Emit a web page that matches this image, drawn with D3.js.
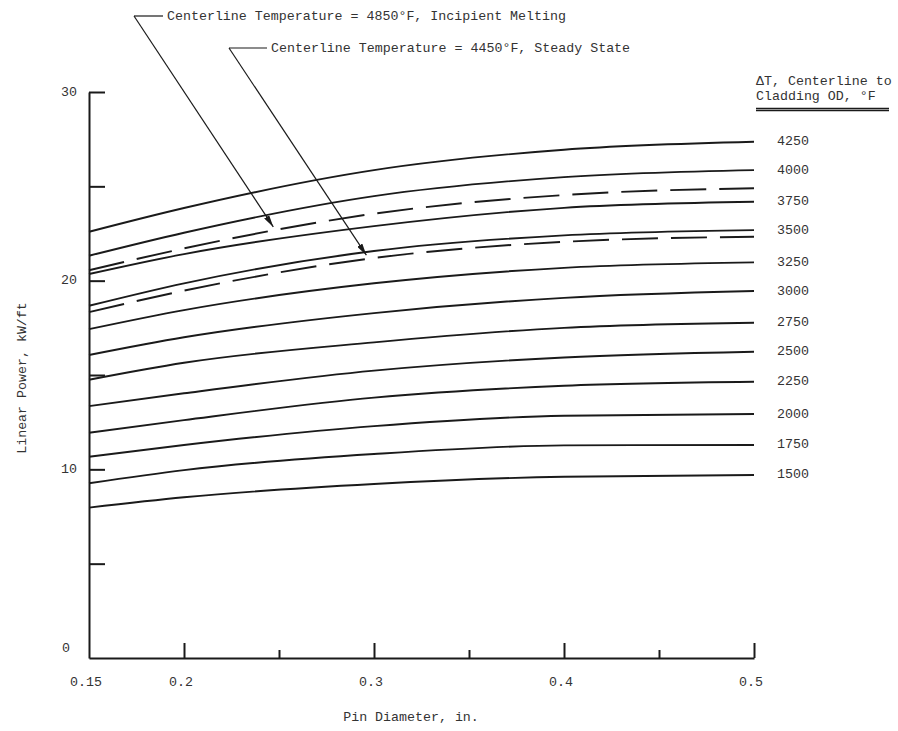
<!DOCTYPE html>
<html><head><meta charset="utf-8">
<script src="https://cdn.jsdelivr.net/npm/d3@7"></script>
<style>
body{margin:0;background:#fff}
svg{display:block}
text{font-family:"Liberation Mono","DejaVu Sans Mono",monospace;fill:#333;font-size:13.3px}
</style>
</head><body>
<svg id="c" width="898" height="731"></svg>
<script>
// ---------- data ----------
const diameters = [0.15, 0.2, 0.3, 0.4, 0.5];          // in.
const deltaTLabels = ["4250","4000","3750","3500","3250","3000","2750","2500","2250","2000","1750","1500"];
const p4250 = [22.59, 23.85, 25.86, 26.94, 27.36];
const p4000 = [21.32, 22.54, 24.48, 25.49, 25.86];
const p3750 = [20.35, 21.41, 22.89, 23.86, 24.18];
const p3500 = [18.67, 19.86, 21.57, 22.40, 22.68];
const p3250 = [17.43, 18.44, 19.86, 20.68, 20.97];
const p3000 = [16.06, 17.00, 18.28, 19.09, 19.45];
const p2750 = [14.75, 15.65, 16.73, 17.50, 17.77];
const p2500 = [13.35, 14.03, 15.23, 15.93, 16.23];
const p2250 = [11.94, 12.61, 13.80, 14.43, 14.64];
const p2000 = [10.67, 11.29, 12.29, 12.84, 12.93];
const p1750 = [9.26, 9.96, 10.81, 11.27, 11.29];
const p1500 = [7.97, 8.52, 9.22, 9.61, 9.70];
const pMelt4850 = [20.55, 21.71, 23.55, 24.54, 24.90];   // dashed, incipient melting
const pSteady4450 = [18.33, 19.47, 21.20, 22.06, 22.33]; // dashed, steady state
const xTickLabels = ["0.15","0.2","0.3","0.4","0.5"];
const yTickLabels = ["0","10","20","30"];
const annot1 = {text:"Centerline Temperature = 4850°F, Incipient Melting", tip:[0.247, 22.85]};
const annot2 = {text:"Centerline Temperature = 4450°F, Steady State", tip:[0.296, 21.35]};

const solidSeries = [p4250,p4000,p3750,p3500,p3250,p3000,p2750,p2500,p2250,p2000,p1750,p1500];
const dashedSeries = [pMelt4850, pSteady4450];

// ---------- layout ----------
const svg = d3.select("#c");
const x = d3.scaleLinear().domain([0.15, 0.5]).range([89, 754]);
const y = d3.scaleLinear().domain([0, 30]).range([658, 92]);
const ink = "#1a1a1a";

const line = d3.line().x((d,i)=>x(diameters[i])).y(d=>y(d)).curve(d3.curveMonotoneX);

// curves
svg.append("g").selectAll("path").data(solidSeries).join("path")
  .attr("d", line).attr("fill","none").attr("stroke",ink).attr("stroke-width",1.9);
svg.append("g").selectAll("path").data(dashedSeries).join("path")
  .attr("d", line).attr("fill","none").attr("stroke",ink).attr("stroke-width",1.9)
  .attr("stroke-dasharray","36,13");

// right labels
svg.append("g").selectAll("text").data(solidSeries).join("text")
  .attr("x", 777).attr("y", d=>y(d[d.length-1])).attr("dominant-baseline","central")
  .text((d,i)=>deltaTLabels[i]);

// x axis (major ticks)
const xMajor = svg.append("g").attr("transform",`translate(0,${y(0)})`)
  .call(d3.axisBottom(x).tickValues([0.2,0.3,0.4,0.5]).tickSizeInner(-15).tickSizeOuter(0).tickFormat(""));
const xMinor = svg.append("g").attr("transform",`translate(0,${y(0)})`)
  .call(d3.axisBottom(x).tickValues([0.25,0.35,0.45]).tickSizeInner(-8).tickSizeOuter(0).tickFormat(""));
xMinor.select(".domain").remove();
// x labels
svg.append("g").selectAll("text").data(xTickLabels).join("text")
  .attr("x", d=>x(+d)-3).attr("y", y(0)+28).attr("text-anchor","middle").text(d=>d);

// y axis
const yAx = svg.append("g").attr("transform",`translate(${x(0.15)},0)`)
  .call(d3.axisLeft(y).tickValues([5,10,15,20,25,30]).tickSizeInner(-16).tickSizeOuter(0).tickFormat(""));
svg.append("g").selectAll("text").data(yTickLabels).join("text")
  .attr("x", d=> d==="0" ? 62 : 77)
  .attr("text-anchor", d=> d==="0" ? "start" : "end")
  .attr("y", d=> y(+d) - (d==="0" ? 10 : 0))
  .attr("dominant-baseline","central").text(d=>d);

[xMajor, xMinor, yAx].forEach(g=>{
  g.selectAll("path,line").attr("stroke",ink).attr("stroke-width",2);
});

// axis titles
svg.append("text").attr("x", 411).attr("y", 721).attr("text-anchor","middle").text("Pin Diameter, in.");
svg.append("text").attr("transform","translate(26,378) rotate(-90)").attr("text-anchor","middle").text("Linear Power, kW/ft");

// legend header
svg.append("text").attr("x",756).attr("y",85).text("ΔT, Centerline to");
svg.append("text").attr("x",756).attr("y",100).text("Cladding OD, °F");
svg.append("line").attr("x1",756).attr("x2",889).attr("y1",108.5).attr("y2",108.5).attr("stroke",ink).attr("stroke-width",1.3);
svg.append("line").attr("x1",756).attr("x2",889).attr("y1",110.5).attr("y2",110.5).attr("stroke",ink).attr("stroke-width",1.3);

// annotation arrows
const defs = svg.append("defs");
defs.append("marker").attr("id","ah").attr("viewBox","0 0 12 6").attr("refX",12).attr("refY",3)
  .attr("markerWidth",12).attr("markerHeight",6).attr("markerUnits","userSpaceOnUse").attr("orient","auto")
  .append("path").attr("d","M0,0 L12,3 L0,6 Z").attr("fill",ink);

function annotate(a, tailX, tailY, barEnd) {
  const g = svg.append("g");
  g.append("line").attr("x1",tailX).attr("y1",tailY).attr("x2",barEnd).attr("y2",tailY)
    .attr("stroke",ink).attr("stroke-width",1.2);
  g.append("line").attr("x1",tailX).attr("y1",tailY).attr("x2",x(a.tip[0])).attr("y2",y(a.tip[1]))
    .attr("stroke",ink).attr("stroke-width",1.2).attr("marker-end","url(#ah)");
  g.append("text").attr("x",barEnd+4).attr("y",tailY).attr("dominant-baseline","central").text(a.text);
}
annotate(annot1, 134, 16, 163);
annotate(annot2, 229, 48, 267);
</script>
</body></html>
